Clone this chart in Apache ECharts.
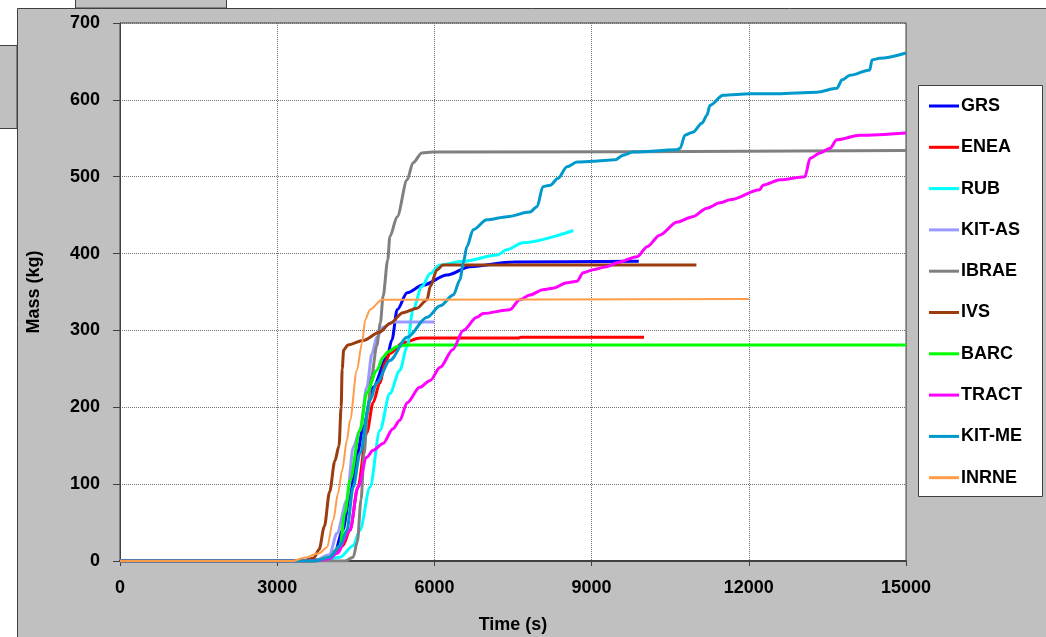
<!DOCTYPE html>
<html>
<head>
<meta charset="utf-8">
<script src="https://cdn.jsdelivr.net/npm/echarts@6/dist/echarts.min.js"></script>
<style>
  html, body { margin: 0; padding: 0; background: #fff; }
  #chart { width: 1046px; height: 637px; }
</style>
</head>
<body>
<div id="chart"></div>
<script>
// Cumulative mass (kg) versus time (s) for each code / organisation
const seriesNames = ['GRS', 'ENEA', 'RUB', 'KIT-AS', 'IBRAE', 'IVS', 'BARC', 'TRACT', 'KIT-ME', 'INRNE'];
const seriesColors = ['#0000FF', '#FF0000', '#00FFFF', '#9999FF', '#808080', '#9A3C0E', '#00FF00', '#FF00FF', '#0099CC', '#FF9C4A'];
const xTicks = [0, 3000, 6000, 9000, 12000, 15000];
const yTicks = [0, 100, 200, 300, 400, 500, 600, 700];

const grs = [[0,0],[3600,0],[3900,3],[4100,12],[4250,40],[4400,90],[4530,140],[4640,174],[4830,226],[5095,265],[5190,288],[5290,327],[5480,349],[5780,359],[6240,372],[6680,383],[7500,389],[9900,390]];
const enea = [[0,0],[3700,0],[4000,5],[4250,20],[4390,40],[4540,96],[4710,167],[4830,206],[4960,232],[5060,258],[5150,270],[5400,284],[5730,290],[7600,290],[7650,291],[10000,291]];
const rub = [[0,0],[3800,0],[4200,5],[4450,20],[4580,40],[4770,96],[4960,170],[5150,218],[5340,248],[5480,279],[5590,327],[5760,357],[5920,374],[6100,385],[6550,390],[7200,398],[7380,405],[7690,414],[8650,430]];
const kitAs = [[0,0],[3700,0],[4000,8],[4140,36],[4330,79],[4450,148],[4580,170],[4710,226],[4810,270],[4900,291],[5020,304],[5210,311],[6000,311]];
const ibrae = [[0,0],[4300,0],[4450,5],[4530,25],[4600,80],[4660,140],[4720,190],[4800,240],[4900,280],[4970,310],[5020,344],[5110,392],[5150,422],[5290,448],[5480,496],[5590,518],[5760,531],[5970,532],[15000,534]];
const ivs = [[0,0],[3500,0],[3700,4],[3800,15],[3900,45],[4000,90],[4100,130],[4180,150],[4220,200],[4240,250],[4270,275],[4350,281],[4640,287],[4960,298],[5150,309],[5400,323],[5670,329],[5860,340],[5920,357],[6050,379],[6160,385],[11000,385]];
const barc = [[0,0],[3700,0],[4000,5],[4200,20],[4290,62],[4390,105],[4580,170],[4710,219],[4900,248],[5020,265],[5110,272],[5290,279],[5480,281],[15000,281]];
const tract = [[0,0],[3700,0],[4000,3],[4140,10],[4390,40],[4540,96],[4710,135],[4830,144],[5020,153],[5210,172],[5340,183],[5480,206],[5720,226],[5920,235],[6110,252],[6350,275],[6550,300],[6810,317],[6930,322],[7440,327],[7630,340],[7820,346],[8070,353],[8260,355],[8530,362],[8720,364],[8840,375],[9030,379],[9290,383],[9480,388],[9870,396],[10060,409],[10300,424],[10630,441],[10930,448],[11200,459],[11450,466],[11640,470],[12210,483],[12270,489],[12600,496],[13070,500],[13170,524],[13360,531],[13550,537],[13680,548],[14120,554],[15000,557]];
const kitMe = [[0,0],[3700,0],[4000,5],[4200,20],[4330,40],[4450,96],[4580,140],[4770,209],[4900,232],[5150,261],[5480,291],[5860,317],[6110,332],[6360,346],[6490,366],[6550,388],[6620,409],[6740,431],[7000,444],[7390,448],[7820,454],[7960,461],[8070,487],[8210,489],[8360,498],[8530,513],[8720,519],[9030,520],[9450,522],[9600,528],[9790,532],[10630,535],[10690,537],[10780,554],[10930,558],[11110,570],[11200,580],[11260,593],[11510,606],[12020,608],[12540,608],[13300,610],[13680,615],[13780,626],[13930,632],[14310,639],[14350,652],[14500,654],[15000,661]];
const inrne = [[0,0],[3300,0],[3500,4],[3800,10],[3950,18],[4070,53],[4160,88],[4240,118],[4330,157],[4390,183],[4520,248],[4620,284],[4680,314],[4770,327],[5000,340],[12000,341]];

const seriesData = [grs, enea, rub, kitAs, ibrae, ivs, barc, tract, kitMe, inrne];
const lineWidths = [3, 3, 3, 3, 3, 3, 3, 3, 3, 2];

const FONT = '"Liberation Sans", Arial, sans-serif';
const chart = echarts.init(document.getElementById('chart'), null, { renderer: 'canvas' });

const option = {
  animation: false,
  backgroundColor: '#FFFFFF',
  graphic: [
    // outer panels
    { type: 'rect', z: -10, shape: { x: 75.5, y: -2, width: 151, height: 10 }, style: { fill: '#C0C0C0', stroke: '#404040', lineWidth: 1 } },
    { type: 'rect', z: -10, shape: { x: -2, y: 45.5, width: 19, height: 83 }, style: { fill: '#C0C0C0', stroke: '#404040', lineWidth: 1 } },
    { type: 'rect', z: -9, shape: { x: 17.5, y: 8.5, width: 1040, height: 640 }, style: { fill: '#C0C0C0', stroke: '#404040', lineWidth: 1 } },
    // plot area background
    { type: 'rect', z: -8, shape: { x: 120, y: 23, width: 786, height: 538 }, style: { fill: '#FFFFFF' } },
    // legend box
    { type: 'rect', z: -8, shape: { x: 918.5, y: 85.5, width: 124, height: 411 }, style: { fill: '#FFFFFF', stroke: '#404040', lineWidth: 1 } }
  ],
  grid: {
    left: 120, top: 23, right: 140, bottom: 76,
    outerBoundsMode: 'none', containLabel: false,
    show: true, borderColor: '#404040', borderWidth: 1, backgroundColor: 'transparent'
  },
  legend: {
    orient: 'vertical',
    left: 924, top: 91,
    itemWidth: 30, itemHeight: 3, itemGap: 21.3,
    icon: 'rect',
    data: seriesNames,
    textStyle: { fontFamily: FONT, fontWeight: 'bold', fontSize: 18, color: '#000', lineHeight: 20, padding: [0, 0, 0, -3] }
  },
  xAxis: {
    type: 'value', min: 0, max: 15000, interval: 3000,
    name: 'Time (s)', nameLocation: 'middle', nameGap: 55,
    nameTextStyle: { fontFamily: FONT, fontWeight: 'bold', fontSize: 18, color: '#000' },
    axisLine: { show: true, lineStyle: { color: '#404040', width: 2 } },
    axisTick: { show: true, length: 5, lineStyle: { color: '#404040' } },
    axisLabel: { fontFamily: FONT, fontWeight: 'bold', fontSize: 18, color: '#000', margin: 18,
      formatter: v => xTicks.includes(v) ? String(v) : '' },
    splitLine: { show: true, lineStyle: { color: '#707070', width: 1, type: [1, 1] } }
  },
  yAxis: {
    type: 'value', min: 0, max: 700, interval: 100,
    name: 'Mass (kg)', nameLocation: 'middle', nameGap: 77,
    nameTextStyle: { fontFamily: FONT, fontWeight: 'bold', fontSize: 18, color: '#000' },
    axisLine: { show: true, lineStyle: { color: '#404040', width: 1 } },
    axisTick: { show: true, length: 7, lineStyle: { color: '#404040' } },
    axisLabel: { fontFamily: FONT, fontWeight: 'bold', fontSize: 18, color: '#000', margin: 20,
      formatter: v => yTicks.includes(v) ? String(v) : '' },
    splitLine: { show: true, lineStyle: { color: '#707070', width: 1, type: [1, 1] } }
  },
  series: seriesNames.map((name, i) => ({
    name,
    type: 'line',
    data: seriesData[i],
    showSymbol: false,
    symbol: 'none',
    smooth: 0.3,
    smoothMonotone: 'x',
    color: seriesColors[i],
    lineStyle: { color: seriesColors[i], width: lineWidths[i] },
    clip: true
  }))
};

chart.setOption(option);
</script>
</body>
</html>
